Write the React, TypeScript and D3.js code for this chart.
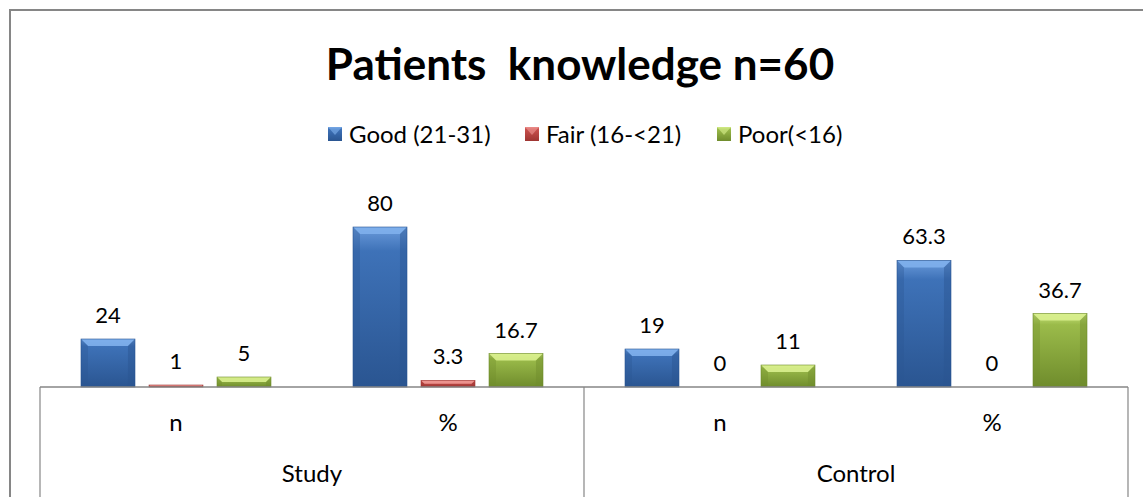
import React from "react";
import * as d3 from "d3";

const innerLabels = ["n", "%", "n", "%"];
const groupLabels = ["Study", "Control"];
const seriesNames = ["Good (21-31)", "Fair (16-<21)", "Poor(<16)"];
const goodValues = [24, 80, 19, 63.3];
const fairValues = [1, 3.3, 0, 0];
const poorValues = [5, 16.7, 11, 36.7];
const titleText = "Patients  knowledge n=60";

const palette = [
  { base: "#3E72B8", light: "#6A9BDB", dark: "#2A5591", top: "#7FB0EC" },
  { base: "#C9504D", light: "#E57D79", dark: "#9E3532", top: "#F09A96" },
  { base: "#9BBB4A", light: "#C6E27A", dark: "#6F8C2C", top: "#D9F08E" },
];

const FONT = "Lato, 'Open Sans', sans-serif";

function Bar({ x, y, w, h, c, id }: any) {
  if (h <= 0) return null;
  const b = Math.min(7, h / 2, w / 2);
  return (
    <g>
      <rect x={x} y={y} width={w} height={h} fill={`url(#g${id})`} />
      <polygon
        points={`${x},${y} ${x + w},${y} ${x + w - b},${y + b} ${x + b},${y + b}`}
        fill={c.top}
        opacity={0.9}
      />
      <polygon
        points={`${x},${y} ${x + b},${y + b} ${x + b},${y + h} ${x},${y + h}`}
        fill={c.dark}
        opacity={0.35}
      />
      <polygon
        points={`${x + w},${y} ${x + w - b},${y + b} ${x + w - b},${y + h} ${x + w},${y + h}`}
        fill={c.dark}
        opacity={0.45}
      />
      <rect x={x} y={y} width={w} height={h} fill="none" stroke={c.dark} strokeWidth={0.6} />
    </g>
  );
}

export default function App() {
  const W = 1143;
  const H = 497;
  const plotLeft = 40;
  const plotRight = 1128;
  const baseY = 387;

  const x0 = d3.scaleBand<number>().domain(d3.range(innerLabels.length)).range([plotLeft, plotRight]);
  const x1 = d3
    .scaleBand<number>()
    .domain([0, 1, 2])
    .range([0, x0.bandwidth()])
    .paddingInner(0.206)
    .paddingOuter(0.603);
  const y = d3.scaleLinear().domain([0, 100]).range([baseY, baseY - 200]);

  const series = [goodValues, fairValues, poorValues];
  const gx = d3.scaleBand<number>().domain(d3.range(groupLabels.length)).range([plotLeft, plotRight]);

  const legendSq = [328, 525, 717];
  const legendTx = [349, 546, 738];

  return (
    <svg
      width={W}
      height={H}
      style={{ position: "absolute", left: 0, top: 0, background: "#fff" }}
      fontFamily={FONT}
    >
      <defs>
        {palette.map((c, i) => (
          <linearGradient key={i} id={`g${i}`} x1="0" y1="0" x2="0" y2="1">
            <stop offset="0" stopColor={c.light} />
            <stop offset="0.15" stopColor={c.base} />
            <stop offset="1" stopColor={c.dark} />
          </linearGradient>
        ))}
      </defs>
      <rect x={0} y={0} width={W} height={H} fill="#fff" />
      <rect x={10} y={10} width={W + 20} height={H + 20} fill="none" stroke="#868686" strokeWidth={2} />

      <text
        x={580}
        y={80}
        textAnchor="middle"
        fontSize={44}
        fontWeight="bold"
        fill="#000"
        style={{ whiteSpace: "pre" }}
      >
        {titleText}
      </text>

      {seriesNames.map((s, i) => (
        <g key={s}>
          <rect x={legendSq[i]} y={127} width={14} height={14} fill={`url(#g${i})`} />
          <polygon
            points={`${legendSq[i]},127 ${legendSq[i] + 14},127 ${legendSq[i] + 7},135`}
            fill={palette[i].top}
            opacity={0.6}
          />
          <text x={legendTx[i]} y={143} fontSize={24} fill="#000">
            {s}
          </text>
        </g>
      ))}

      {series.map((vals, si) =>
        vals.map((v, ci) => {
          const bx = (x0(ci) as number) + (x1(si) as number);
          const bw = x1.bandwidth();
          const top = y(v);
          return (
            <g key={`${si}-${ci}`}>
              <Bar x={bx} y={top} w={bw} h={baseY - top} c={palette[si]} id={si} />
              <text x={bx + bw / 2} y={top - 16} textAnchor="middle" fontSize={22} fill="#000">
                {v}
              </text>
            </g>
          );
        })
      )}

      <line x1={plotLeft} x2={plotRight} y1={baseY} y2={baseY} stroke="#868686" strokeWidth={1.5} />
      {[plotLeft, (gx(1) as number), plotRight].map((xx, i) => (
        <line key={i} x1={xx} x2={xx} y1={baseY} y2={H} stroke="#868686" strokeWidth={1.2} />
      ))}

      {innerLabels.map((l, i) => (
        <text
          key={i}
          x={(x0(i) as number) + x0.bandwidth() / 2}
          y={431}
          textAnchor="middle"
          fontSize={24}
          fill="#000"
        >
          {l}
        </text>
      ))}
      {groupLabels.map((l, i) => (
        <text
          key={l}
          x={(gx(i) as number) + gx.bandwidth() / 2}
          y={482}
          textAnchor="middle"
          fontSize={24}
          fill="#000"
        >
          {l}
        </text>
      ))}
    </svg>
  );
}
